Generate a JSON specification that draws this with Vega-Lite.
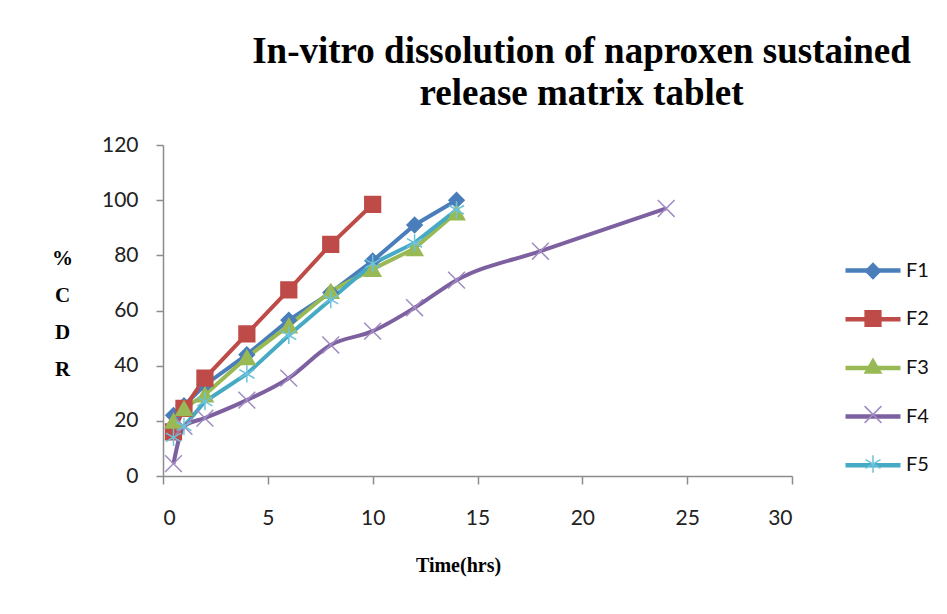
{
  "$schema": "https://vega.github.io/schema/vega-lite/v6.json",
  "autosize": "none",
  "width": 629,
  "height": 331,
  "padding": {"left": 163, "top": 145, "right": 155, "bottom": 138},
  "background": "white",
  "title": {
    "text": ["In-vitro dissolution of naproxen sustained", "release matrix tablet"],
    "font": "Liberation Serif",
    "fontWeight": "bold",
    "fontSize": 37,
    "color": "#000000",
    "anchor": "middle",
    "dx": 104,
    "offset": 21,
    "lineHeight": 42
  },
  "data": {
    "values": [
      {"t": 0.5, "cdr": 22, "f": "F1"},
      {"t": 1, "cdr": 25.5, "f": "F1"},
      {"t": 2, "cdr": 33, "f": "F1"},
      {"t": 4, "cdr": 44, "f": "F1"},
      {"t": 6, "cdr": 56.5, "f": "F1"},
      {"t": 8, "cdr": 66.5, "f": "F1"},
      {"t": 10, "cdr": 78, "f": "F1"},
      {"t": 12, "cdr": 91, "f": "F1"},
      {"t": 14, "cdr": 100, "f": "F1"},
      {"t": 0.5, "cdr": 16, "f": "F2"},
      {"t": 1, "cdr": 24.5, "f": "F2"},
      {"t": 2, "cdr": 35.5, "f": "F2"},
      {"t": 4, "cdr": 51.5, "f": "F2"},
      {"t": 6, "cdr": 67.5, "f": "F2"},
      {"t": 8, "cdr": 84, "f": "F2"},
      {"t": 10, "cdr": 98.5, "f": "F2"},
      {"t": 0.5, "cdr": 20, "f": "F3"},
      {"t": 1, "cdr": 24.5, "f": "F3"},
      {"t": 2, "cdr": 29.5, "f": "F3"},
      {"t": 4, "cdr": 43, "f": "F3"},
      {"t": 6, "cdr": 54.5, "f": "F3"},
      {"t": 8, "cdr": 67, "f": "F3"},
      {"t": 10, "cdr": 75, "f": "F3"},
      {"t": 12, "cdr": 82.5, "f": "F3"},
      {"t": 14, "cdr": 95.5, "f": "F3"},
      {"t": 0.5, "cdr": 4.5, "f": "F4"},
      {"t": 1, "cdr": 18, "f": "F4"},
      {"t": 2, "cdr": 21, "f": "F4"},
      {"t": 4, "cdr": 27.5, "f": "F4"},
      {"t": 6, "cdr": 35.5, "f": "F4"},
      {"t": 8, "cdr": 47.5, "f": "F4"},
      {"t": 10, "cdr": 52.5, "f": "F4"},
      {"t": 12, "cdr": 61, "f": "F4"},
      {"t": 14, "cdr": 71, "f": "F4"},
      {"t": 18, "cdr": 81.5, "f": "F4"},
      {"t": 24, "cdr": 97, "f": "F4"},
      {"t": 0.5, "cdr": 14, "f": "F5"},
      {"t": 1, "cdr": 18, "f": "F5"},
      {"t": 2, "cdr": 27, "f": "F5"},
      {"t": 4, "cdr": 37, "f": "F5"},
      {"t": 6, "cdr": 51, "f": "F5"},
      {"t": 8, "cdr": 64, "f": "F5"},
      {"t": 10, "cdr": 77, "f": "F5"},
      {"t": 12, "cdr": 84.5, "f": "F5"},
      {"t": 14, "cdr": 96.5, "f": "F5"}
    ]
  },
  "encoding": {
    "x": {
      "field": "t",
      "type": "quantitative",
      "scale": {"domain": [0, 30], "nice": false, "zero": true},
      "axis": {
        "values": [0, 5, 10, 15, 20, 25, 30],
        "grid": false,
        "title": "Time(hrs)",
        "titleFont": "Liberation Serif",
        "titleFontWeight": "bold",
        "titleFontSize": 20,
        "titleColor": "#000000",
        "titleX": 295,
        "titleY": 89,
        "titleBaseline": "middle",
        "titleAlign": "center",
        "labelFont": "Lato",
        "labelFontSize": 21,
        "labelColor": "#222222",
        "labelPadding": 23,
        "domainColor": "#8c8c8c",
        "domainWidth": 1.5,
        "tickColor": "#8c8c8c",
        "tickWidth": 1.5,
        "tickSize": 8
      }
    },
    "y": {
      "field": "cdr",
      "type": "quantitative",
      "scale": {"domain": [0, 120], "nice": false},
      "axis": {
        "values": [0, 20, 40, 60, 80, 100, 120],
        "grid": false,
        "title": ["%", "C", "D", "R"],
        "titleFont": "Liberation Serif",
        "titleFontWeight": "bold",
        "titleFontSize": 21,
        "titleColor": "#000000",
        "titleAngle": 0,
        "titleX": -101,
        "titleY": 102,
        "titleAlign": "center",
        "titleBaseline": "top",
        "titleLineHeight": 37,
        "labelFont": "Lato",
        "labelFontSize": 21,
        "labelColor": "#222222",
        "labelPadding": 18,
        "domainColor": "#8c8c8c",
        "domainWidth": 1.5,
        "tickColor": "#8c8c8c",
        "tickWidth": 1.5,
        "tickSize": 7
      }
    }
  },
  "layer": [
    {
      "transform": [{"filter": "datum.f != 'F4'"}],
      "mark": {"type": "line", "strokeWidth": 4},
      "encoding": {
        "color": {
          "field": "f",
          "type": "nominal",
          "scale": {"range": ["#4A7EBB", "#BE4B48", "#98B954", "#7D60A0", "#46AAC5"]},
          "legend": {
            "title": null,
            "orient": "none",
            "legendX": 680,
            "legendY": 95.5,
            "symbolType": "stroke",
            "symbolSize": 3025,
            "symbolStrokeWidth": 4.5,
            "labelFont": "Lato",
            "labelFontSize": 20,
            "labelColor": "#111111",
            "labelOffset": 3,
            "rowPadding": 8.7
          }
        }
      }
    },
    {
      "transform": [{"filter": "datum.f == 'F4'"}],
      "mark": {"type": "line", "strokeWidth": 4, "interpolate": "monotone"},
      "encoding": {
        "color": {"field": "f", "type": "nominal"}
      }
    },
    {
      "mark": {"type": "point", "filled": true, "opacity": 1, "strokeWidth": 1.5},
      "encoding": {
        "shape": {
          "field": "f",
          "type": "nominal",
          "scale": {"domain": ["F1", "F2", "F3", "F4", "F5"], "range": ["diamond", "square", "triangle-up", "M-1,-1L1,1M-1,1L1,-1", "M0,-1L0,1M-0.87,-0.5L0.87,0.5M-0.87,0.5L0.87,-0.5"]},
          "legend": {
            "title": null,
            "orient": "none",
            "legendX": 700,
            "legendY": 116,
            "labelExpr": "''",
            "labelFontSize": 20,
            "rowPadding": 25.5,
            "symbolStrokeWidth": 1.5
          }
        },
        "fill": {
          "field": "f",
          "type": "nominal",
          "scale": {"domain": ["F1", "F2", "F3", "F4", "F5"], "range": ["#4A7EBB", "#BE4B48", "#98B954", "#A08BC2", "#6CC3DB"]},
          "legend": {
            "title": null,
            "orient": "none",
            "legendX": 700,
            "legendY": 116,
            "labelExpr": "''",
            "labelFontSize": 20,
            "rowPadding": 25.5,
            "symbolStrokeWidth": 1.5
          }
        },
        "stroke": {
          "field": "f",
          "type": "nominal",
          "scale": {"domain": ["F1", "F2", "F3", "F4", "F5"], "range": ["#4A7EBB", "#BE4B48", "#98B954", "#A08BC2", "#6CC3DB"]},
          "legend": {
            "title": null,
            "orient": "none",
            "legendX": 700,
            "legendY": 116,
            "labelExpr": "''",
            "labelFontSize": 20,
            "rowPadding": 25.5,
            "symbolStrokeWidth": 1.5
          }
        },
        "size": {
          "field": "f",
          "type": "nominal",
          "scale": {"domain": ["F1", "F2", "F3", "F4", "F5"], "range": [230, 300, 330, 400, 400]},
          "legend": {
            "title": null,
            "orient": "none",
            "legendX": 700,
            "legendY": 116,
            "labelExpr": "''",
            "labelFontSize": 20,
            "rowPadding": 25.5,
            "symbolStrokeWidth": 1.5
          }
        }
      }
    }
  ],
  "config": {
    "view": {"stroke": null}
  }
}
